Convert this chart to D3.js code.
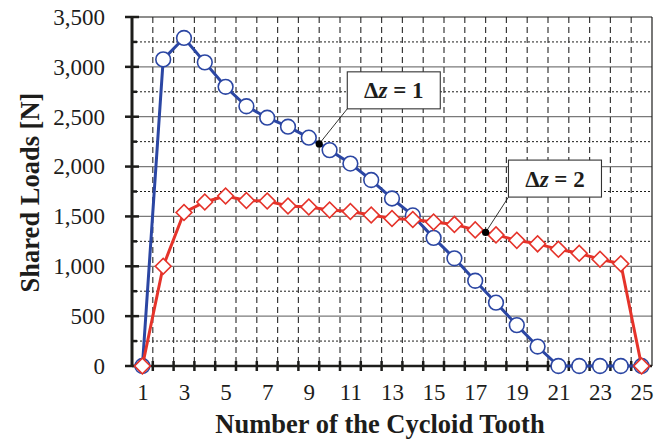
<!DOCTYPE html>
<html>
<head>
<meta charset="utf-8">
<script src="https://cdn.jsdelivr.net/npm/d3@7"></script>
<style>
  html, body { margin: 0; padding: 0; background: #fff; }
  svg { display: block; }
</style>
</head>
<body>
<svg id="chart" width="661" height="442"></svg>
<script>
// Tooth numbers of the cycloid disc
const teeth = d3.range(1, 26);
// Shared loads [N] per tooth, one tooth-difference per series
const loadsDz1 = [0, 3075, 3290, 3045, 2800, 2605, 2490, 2400, 2290, 2165,
                  2030, 1865, 1680, 1510, 1285, 1080, 855, 635, 410, 195,
                  0, 0, 0, 0, 0];
const loadsDz2 = [0, 1000, 1540, 1645, 1705, 1660, 1655, 1605, 1595, 1565,
                  1550, 1515, 1480, 1470, 1445, 1420, 1365, 1315, 1260, 1225,
                  1170, 1130, 1070, 1025, 0];
const xTickLabels = [1, 3, 5, 7, 9, 11, 13, 15, 17, 19, 21, 23, 25];
const yTickLabels = [0, 500, 1000, 1500, 2000, 2500, 3000, 3500];
const seriesNames = ["\u0394z = 1", "\u0394z = 2"];

const svg = d3.select("#chart");
const pLeft = 132, pRight = 652, pTop = 17, pBottom = 366;

const x = d3.scaleLinear().domain([0.5, 25.5]).range([pLeft, pRight]);
const y = d3.scaleLinear().domain([0, 3500]).range([pBottom, pTop]);

const ink = "#1d1d1b";
const blue = "#2b46a3";
const red = "#e5332a";
const serif = "'Liberation Serif', 'Times New Roman', serif";

// Horizontal grid: solid at 500 N, dotted in between
const minorY = d3.range(250, 3500, 500);
const majorY = d3.range(500, 3500, 500);
svg.append("g").selectAll("line").data(minorY).join("line")
  .attr("x1", pLeft).attr("x2", pRight)
  .attr("y1", d => y(d)).attr("y2", d => y(d))
  .attr("stroke", ink).attr("stroke-width", 1).attr("stroke-dasharray", "2,2");
svg.append("g").selectAll("line").data(majorY).join("line")
  .attr("x1", pLeft).attr("x2", pRight)
  .attr("y1", d => y(d)).attr("y2", d => y(d))
  .attr("stroke", "#7a7a7a").attr("stroke-width", 1.2);

// Vertical grid between teeth, dashed
const bounds = d3.range(1.5, 25, 1);
svg.append("g").selectAll("line").data(bounds).join("line")
  .attr("x1", d => x(d)).attr("x2", d => x(d))
  .attr("y1", pTop).attr("y2", pBottom)
  .attr("stroke", "#3a3a3a").attr("stroke-width", 1.2).attr("stroke-dasharray", "6,4");

// Frame: top and right edges
svg.append("line").attr("x1", pLeft).attr("x2", pRight).attr("y1", pTop).attr("y2", pTop)
  .attr("stroke", ink).attr("stroke-width", 1.2);
svg.append("line").attr("x1", pRight).attr("x2", pRight).attr("y1", pTop).attr("y2", pBottom)
  .attr("stroke", ink).attr("stroke-width", 1.2);

// Y axis with crossing major ticks and inner minor ticks
const yAxis = d3.axisLeft(y).tickValues(yTickLabels).tickSize(0).tickPadding(27)
  .tickFormat(d3.format(","));
const gy = svg.append("g").attr("transform", `translate(${pLeft},0)`).call(yAxis);
gy.attr("font-family", serif);
gy.select(".domain").remove();
gy.selectAll("text").attr("font-family", serif).attr("font-size", 23).attr("fill", ink);
svg.append("g").selectAll("line").data(yTickLabels).join("line")
  .attr("x1", pLeft - 7).attr("x2", pLeft + 7)
  .attr("y1", d => y(d)).attr("y2", d => y(d))
  .attr("stroke", ink).attr("stroke-width", 2.5);
svg.append("g").selectAll("line").data(minorY).join("line")
  .attr("x1", pLeft).attr("x2", pLeft + 5)
  .attr("y1", d => y(d)).attr("y2", d => y(d))
  .attr("stroke", ink).attr("stroke-width", 2.5);
svg.append("line").attr("x1", pLeft).attr("x2", pLeft).attr("y1", pTop - 1).attr("y2", pBottom + 1)
  .attr("stroke", ink).attr("stroke-width", 3);

// X axis: odd tooth labels, crossing ticks at tooth boundaries
const xAxis = d3.axisBottom(x).tickValues(xTickLabels).tickSize(0).tickPadding(18)
  .tickFormat(d3.format("d"));
const gx = svg.append("g").attr("transform", `translate(0,${pBottom})`).call(xAxis);
gx.attr("font-family", serif);
gx.select(".domain").remove();
gx.selectAll("text").attr("font-family", serif).attr("font-size", 23).attr("fill", ink);
svg.append("g").selectAll("line").data(bounds).join("line")
  .attr("x1", d => x(d)).attr("x2", d => x(d))
  .attr("y1", pBottom - 5).attr("y2", pBottom + 5)
  .attr("stroke", ink).attr("stroke-width", 2.5);
svg.append("line").attr("x1", pLeft).attr("x2", pRight).attr("y1", pBottom).attr("y2", pBottom)
  .attr("stroke", ink).attr("stroke-width", 2.5);

// Axis titles
svg.append("text")
  .attr("x", (pLeft + pRight) / 2 - 12).attr("y", 433)
  .attr("text-anchor", "middle")
  .attr("font-family", serif).attr("font-weight", "bold").attr("font-size", 26.5).attr("fill", ink)
  .text("Number of the Cycloid Tooth");
svg.append("text")
  .attr("transform", `translate(39,${(pTop + pBottom) / 2 + 1}) rotate(-90)`)
  .attr("text-anchor", "middle")
  .attr("font-family", serif).attr("font-weight", "bold").attr("font-size", 26.5).attr("fill", ink)
  .text("Shared Loads [N]");

// Series
const line = d3.line().x((d, i) => x(teeth[i])).y(d => y(d));
const plot = svg.append("g");

function drawSeries(values, color, shape) {
  plot.append("path").datum(values)
    .attr("d", line).attr("fill", "none")
    .attr("stroke", color).attr("stroke-width", 3).attr("stroke-linejoin", "round");
  const sym = d3.symbol().type(shape).size(shape === d3.symbolCircle ? 170 : 125);
  plot.append("g").selectAll("path").data(values).join("path")
    .attr("transform", (d, i) => shape === d3.symbolCircle
      ? `translate(${x(teeth[i])},${y(d)})`
      : `translate(${x(teeth[i])},${y(d)}) rotate(45)`)
    .attr("d", sym)
    .attr("fill", "#fff").attr("stroke", color).attr("stroke-width", 1.6);
}
drawSeries(loadsDz1, blue, d3.symbolCircle);
drawSeries(loadsDz2, red, d3.symbolSquare);

// Callouts: a dot on each curve midway between two teeth, a leader and a boxed label
function callout(values, at, boxX, boxY, label) {
  const i = Math.floor(at) - 1;
  const v = values[i] + (values[i + 1] - values[i]) * (at - Math.floor(at));
  const px = x(at), py = y(v);
  const bx = x(boxX), by = y(boxY);
  const w = 93, h = 37;
  svg.append("line").attr("x1", px).attr("y1", py).attr("x2", bx).attr("y2", by + h)
    .attr("stroke", ink).attr("stroke-width", 0.9);
  svg.append("circle").attr("cx", px).attr("cy", py).attr("r", 3.6).attr("fill", "#000");
  svg.append("rect").attr("x", bx).attr("y", by).attr("width", w).attr("height", h)
    .attr("fill", "#fff").attr("stroke", "#333").attr("stroke-width", 1.1);
  const t = svg.append("text")
    .attr("x", bx + w / 2).attr("y", by + h / 2 + 8)
    .attr("text-anchor", "middle")
    .attr("font-family", serif).attr("font-weight", "bold").attr("font-size", 23).attr("fill", ink);
  const parts = label.split("z");
  t.append("tspan").text(parts[0]);
  t.append("tspan").attr("font-style", "italic").text("z");
  t.append("tspan").text(parts[1]);
}
callout(loadsDz1, 9.5, 10.85, 2950, seriesNames[0]);
callout(loadsDz2, 17.5, 18.6, 2065, seriesNames[1]);
</script>
</body>
</html>
